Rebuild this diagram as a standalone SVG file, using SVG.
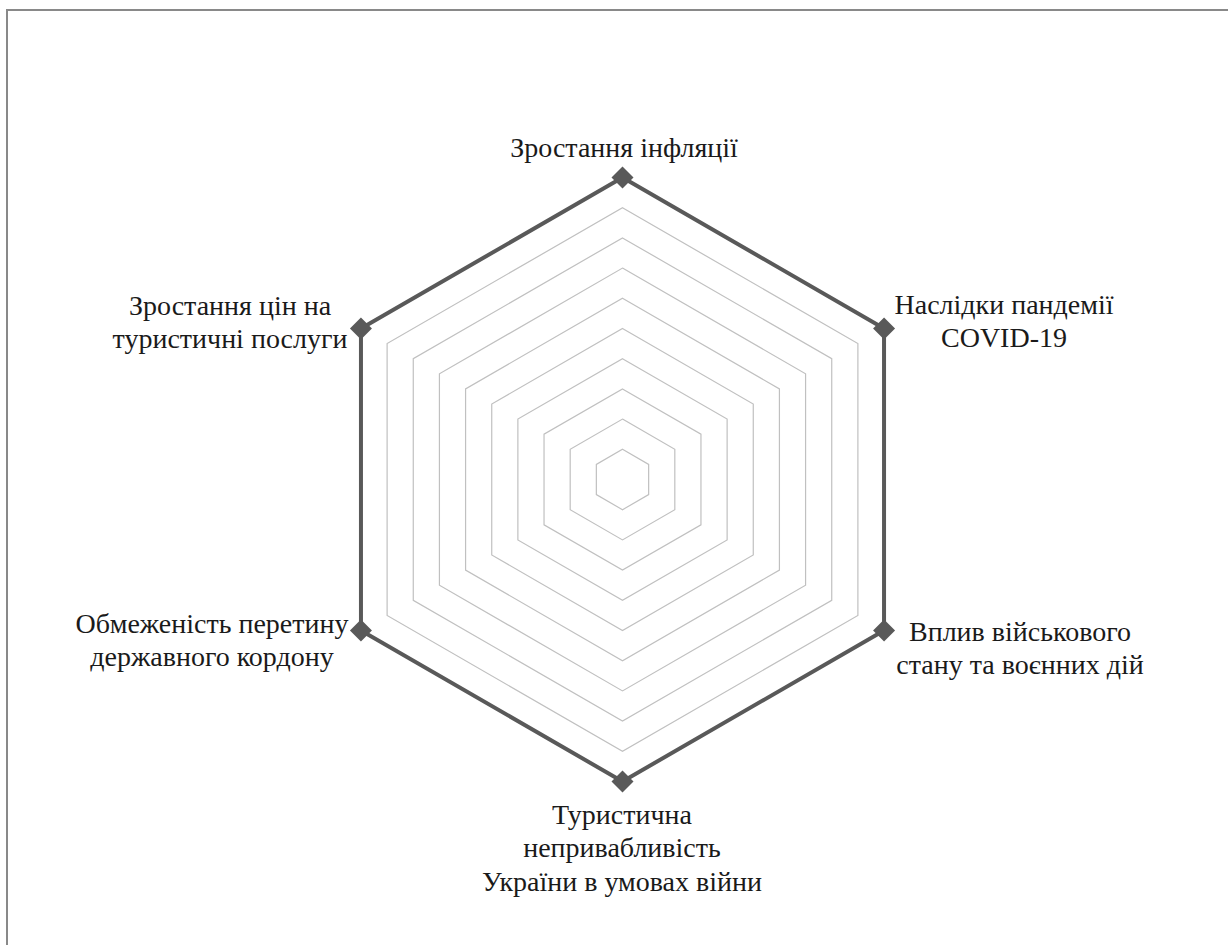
<svg xmlns="http://www.w3.org/2000/svg" width="1228" height="945" viewBox="0 0 1228 945">
<style>
.grid{fill:none;stroke:#c0c0c0;stroke-width:1.2}
.data{fill:none;stroke:#595959;stroke-width:4;stroke-linejoin:round}
.mk{fill:#595959}
</style>
<defs>
<polygon id="dia" points="0,-11 11,0 0,11 -11,0"/>
</defs>
<rect x="7" y="10" width="1260" height="980" fill="#ffffff" stroke="#898989" stroke-width="2"/>
<g id="grid" transform="translate(622.5,479.5)">
<polygon class="grid" points="0,-30.2 26.15,-15.1 26.15,15.1 0,30.2 -26.15,15.1 -26.15,-15.1"/>
<polygon class="grid" points="0,-60.4 52.31,-30.2 52.31,30.2 0,60.4 -52.31,30.2 -52.31,-30.2"/>
<polygon class="grid" points="0,-90.6 78.46,-45.3 78.46,45.3 0,90.6 -78.46,45.3 -78.46,-45.3"/>
<polygon class="grid" points="0,-120.8 104.62,-60.4 104.62,60.4 0,120.8 -104.62,60.4 -104.62,-60.4"/>
<polygon class="grid" points="0,-151 130.77,-75.5 130.77,75.5 0,151 -130.77,75.5 -130.77,-75.5"/>
<polygon class="grid" points="0,-181.2 156.92,-90.6 156.92,90.6 0,181.2 -156.92,90.6 -156.92,-90.6"/>
<polygon class="grid" points="0,-211.4 183.08,-105.7 183.08,105.7 0,211.4 -183.08,105.7 -183.08,-105.7"/>
<polygon class="grid" points="0,-241.6 209.23,-120.8 209.23,120.8 0,241.6 -209.23,120.8 -209.23,-120.8"/>
<polygon class="grid" points="0,-271.8 235.39,-135.9 235.39,135.9 0,271.8 -235.39,135.9 -235.39,-135.9"/>
</g>
<g id="series" transform="translate(622.5,479.5)">
<polygon class="data" points="0,-302 261.54,-151 261.54,151 0,302 -261.54,151 -261.54,-151"/>
<use href="#dia" class="mk" x="0" y="-302"/>
<use href="#dia" class="mk" x="261.54" y="-151"/>
<use href="#dia" class="mk" x="261.54" y="151"/>
<use href="#dia" class="mk" x="0" y="302"/>
<use href="#dia" class="mk" x="-261.54" y="151"/>
<use href="#dia" class="mk" x="-261.54" y="-151"/>
</g>
<g font-family="'Liberation Serif', 'DejaVu Serif', serif" font-size="28" fill="#1a1a1a" text-anchor="middle">
<g id="label-inflation"><text x="624" y="157">Зростання інфляції</text></g>
<g id="label-covid"><text x="1004" y="314">Наслідки пандемії</text><text x="1004" y="347">COVID-19</text></g>
<g id="label-war"><text x="1020" y="641">Вплив військового</text><text x="1020" y="674">стану та воєнних дій</text></g>
<g id="label-unattractive"><text x="622" y="824">Туристична</text><text x="622" y="857">непривабливість</text><text x="622" y="891">України в умовах війни</text></g>
<g id="label-border"><text x="212" y="633">Обмеженість перетину</text><text x="212" y="666">державного кордону</text></g>
<g id="label-prices"><text x="230" y="315">Зростання цін на</text><text x="230" y="348">туристичні послуги</text></g>
</g>
</svg>
